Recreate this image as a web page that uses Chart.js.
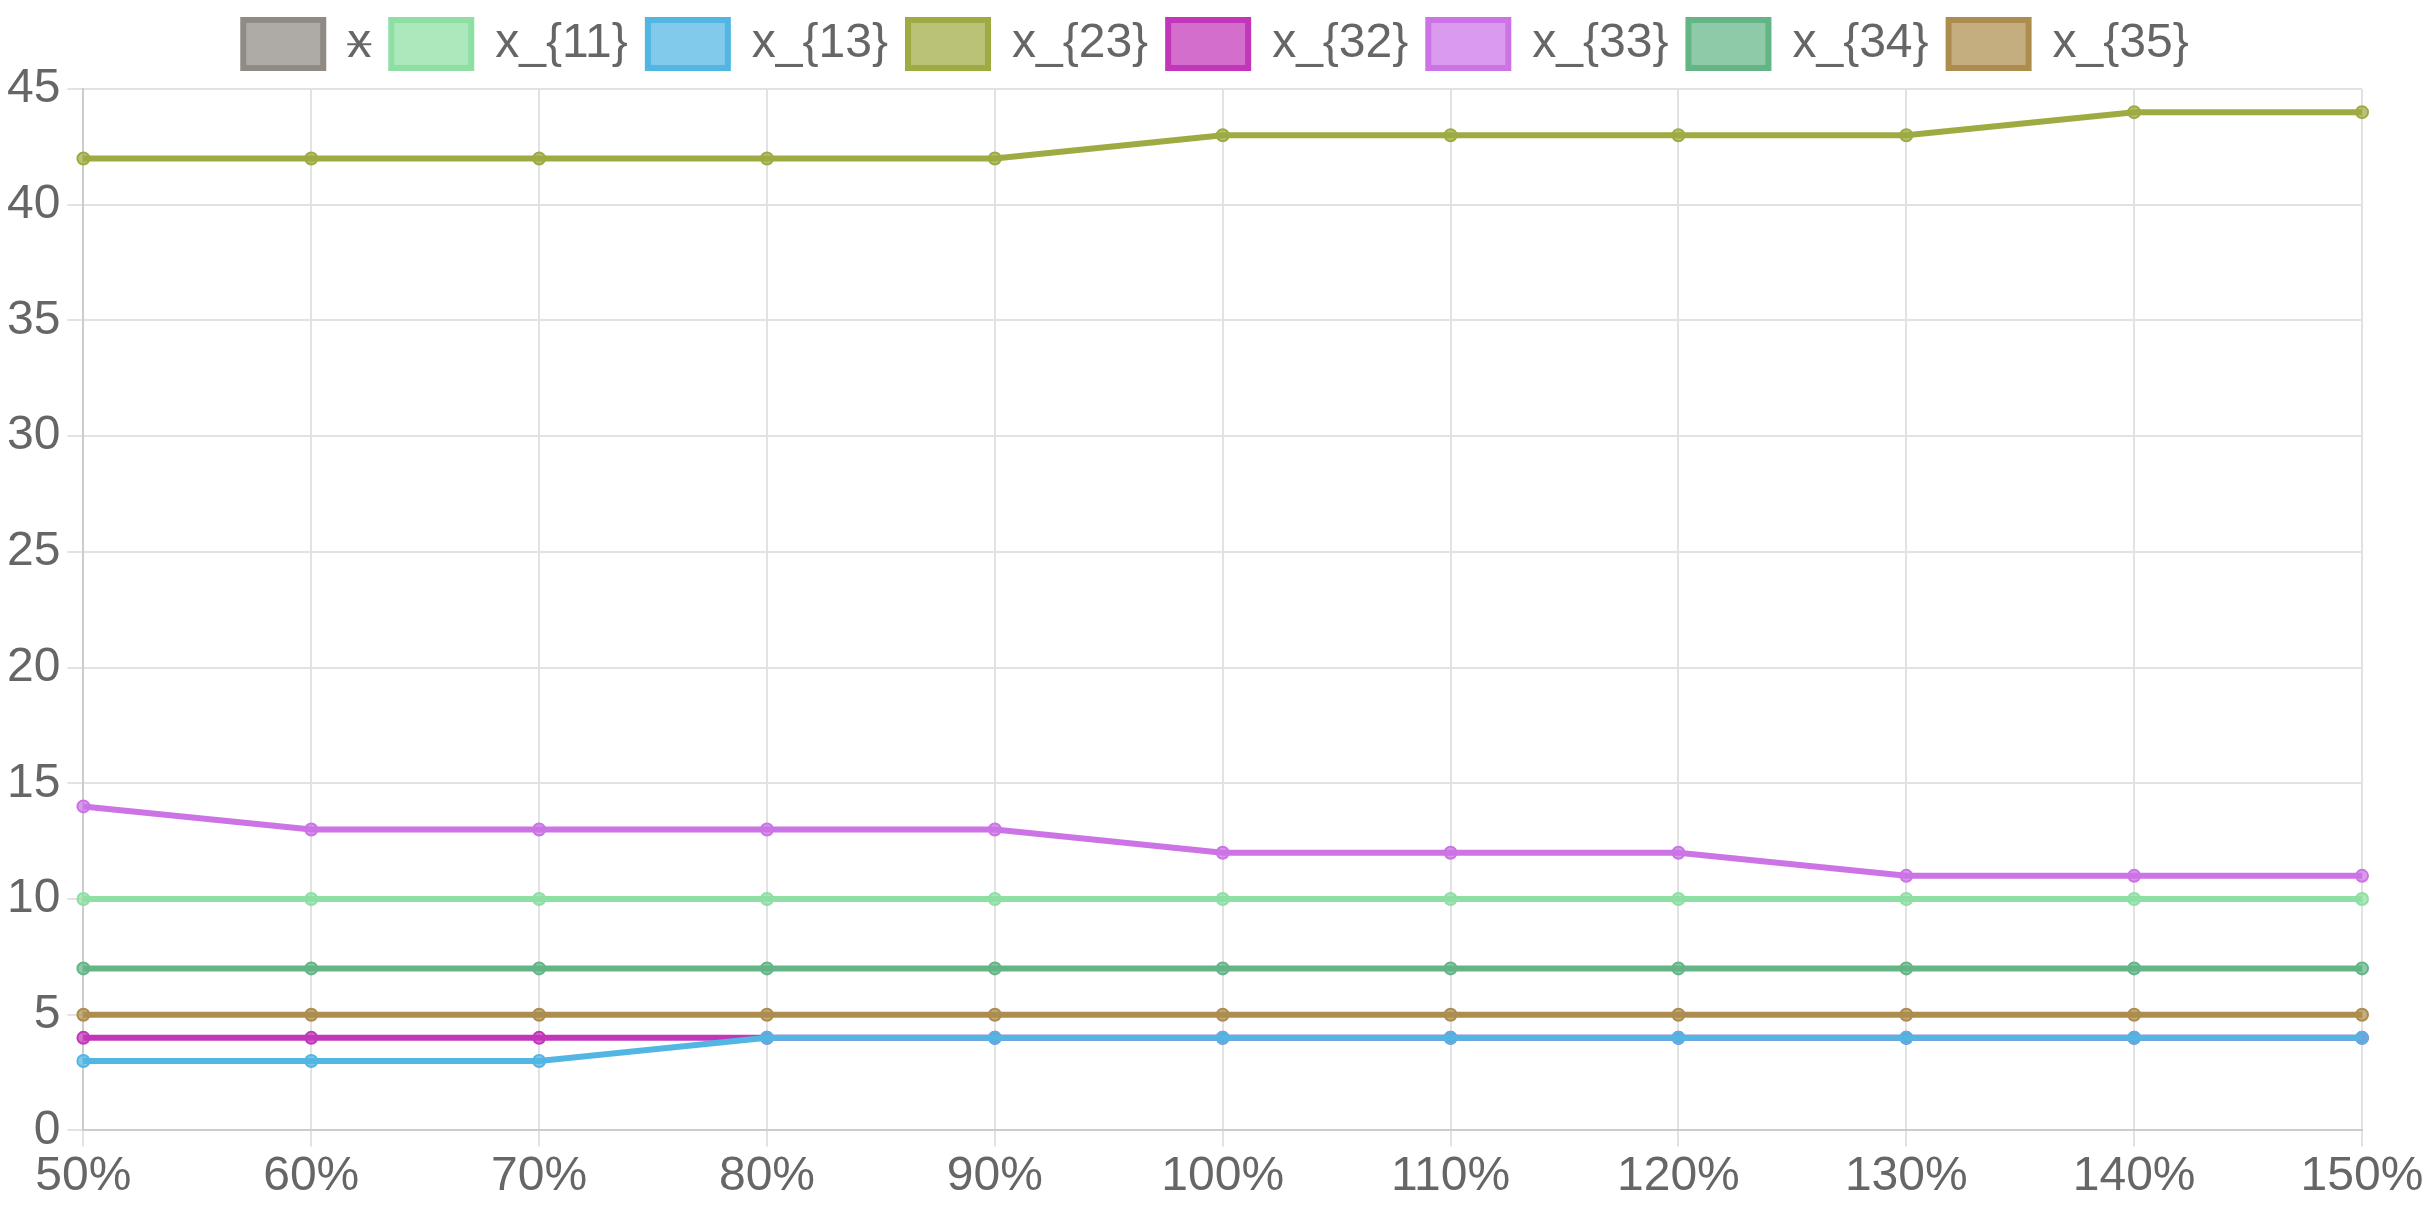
<!DOCTYPE html>
<html>
<head>
<meta charset="utf-8">
<script src="https://cdn.jsdelivr.net/npm/chart.js@4/dist/chart.umd.min.js"></script>
<style>
html,body{margin:0;padding:0;background:#fff;}
#wrap{width:2432px;height:1216px;}
</style>
</head>
<body>
<div id="wrap"><canvas id="c" width="2432" height="1216"></canvas></div>
<script>
const categories = ["50%","60%","70%","80%","90%","100%","110%","120%","130%","140%","150%"];
const seriesNames = ["x","x_{11}","x_{13}","x_{23}","x_{32}","x_{33}","x_{34}","x_{35}"];
const xHidden = [];
const x11 = [10,10,10,10,10,10,10,10,10,10,10];
const x13 = [3,3,3,4,4,4,4,4,4,4,4];
const x23 = [42,42,42,42,42,43,43,43,43,44,44];
const x32 = [4,4,4,4,4,4,4,4,4,4,4];
const x33 = [14,13,13,13,13,12,12,12,11,11,11];
const x34 = [7,7,7,7,7,7,7,7,7,7,7];
const x35 = [5,5,5,5,5,5,5,5,5,5,5];
const yTicks = [0,5,10,15,20,25,30,35,40,45];

const colors = [
  [143,138,131],
  [141,223,163],
  [82,182,227],
  [158,171,66],
  [194,54,185],
  [204,115,230],
  [99,181,133],
  [173,141,78]
];
const values = [xHidden,x11,x13,x23,x32,x33,x34,x35];
const rgba = (c,a)=>`rgba(${c[0]},${c[1]},${c[2]},${a})`;

const datasets = seriesNames.map((n,i)=>({
  label: n,
  data: values[i],
  borderColor: rgba(colors[i],1),
  backgroundColor: rgba(colors[i],0.72),
  pointBackgroundColor: rgba(colors[i],0.72),
  pointBorderColor: rgba(colors[i],1),
  borderWidth: 6,
  pointRadius: 6,
  pointBorderWidth: 2,
  tension: 0,
  fill: false,
  hidden: i === 0
}));

Chart.defaults.font.family = '"Liberation Sans", Arial, Helvetica, sans-serif';
Chart.defaults.color = '#666';

const legendSpacer = {
  id: 'legendSpacer',
  beforeInit(chart) {
    const orig = chart.legend.fit;
    chart.legend.fit = function() {
      orig.call(this);
      this.height += 11;
    };
  }
};

new Chart(document.getElementById('c'), {
  type: 'line',
  data: { labels: categories, datasets },
  plugins: [legendSpacer],
  options: {
    responsive: false,
    devicePixelRatio: 1,
    animation: false,
    layout: { padding: { left: 0, right: 0, top: 0, bottom: 8 } },
    plugins: {
      legend: {
        position: 'top',
        labels: {
          font: { size: 48 },
          boxWidth: 80,
          boxHeight: 48,
          padding: 20
        }
      },
      tooltip: { enabled: false }
    },
    scales: {
      x: {
        afterFit: (s)=>{ s.paddingRight = 70; },
        grid: { color: '#e2e2e2', lineWidth: 2, tickLength: 16 },
        border: { color: '#cccccc', width: 2 },
        ticks: { font: { size: 48 }, maxRotation: 0, padding: 2 }
      },
      y: {
        min: 0,
        max: 45,
        afterBuildTicks: (s)=>{ s.ticks = yTicks.map(v=>({value:v})); },
        grid: { color: '#e2e2e2', lineWidth: 2, tickLength: 16 },
        border: { color: '#cccccc', width: 2 },
        ticks: { font: { size: 48 }, padding: 7 }
      }
    }
  }
});
</script>
</body>
</html>
